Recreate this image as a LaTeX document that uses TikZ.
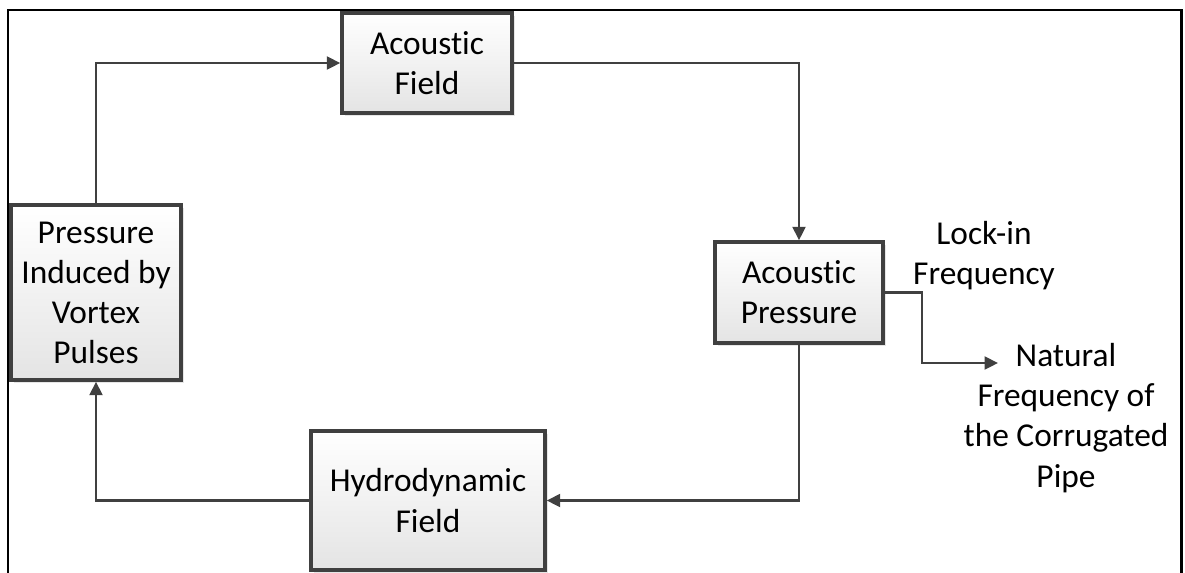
\documentclass[tikz,border=0pt]{standalone}
\usepackage{fontspec}
\setmainfont{Carlito}[Ligatures={NoCommon}]
\usetikzlibrary{arrows.meta, positioning, shadows}
\definecolor{boxedge}{HTML}{404040}
\definecolor{boxfill}{HTML}{E4E4E4}
\definecolor{linegray}{HTML}{404040}

\begin{document}
\begin{tikzpicture}[
  x=0.02cm, y=-0.02cm,
  block/.style={rectangle, draw=boxedge, line width=2pt, top color=white, bottom color=boxfill,
    drop shadow={shadow xshift=1.5pt, shadow yshift=-1.5pt, opacity=0.2},
    align=center, inner sep=2pt, font=\fontsize{19}{22.8}\selectfont},
  label text/.style={align=center, font=\fontsize{19}{22.8}\selectfont},
  arrow/.style={-{Triangle[length=0.27cm, width=0.26cm]}, line width=1.25pt, color=linegray}
]
  \useasboundingbox (0,0) rectangle (1185,572);

  % Frame
  \draw[line width=1.7pt, black] (8,575) -- (8,10) -- (1181,10) -- (1181,575);

  % Blocks
  \node[block, minimum width=3.4cm, minimum height=2.0cm] (field) at (427,63) {Acoustic\\Field};
  \node[block, minimum width=3.36cm, minimum height=2.02cm] (apress) at (799,292.5) {Acoustic\\Pressure};
  \node[block, minimum width=4.68cm, minimum height=2.78cm] (hydro) at (428,500.5) {Hydrodynamic\\Field};
  \node[block, minimum width=3.4cm, minimum height=3.5cm] (press) at (96,292.5) {Pressure\\Induced by\\Vortex\\Pulses};

  % Frequency labels
  \node[label text] (lockin) at (984,256) {Lock-in\\Frequency};
  \node[label text] (natfreq) at (1066,418) {Natural\\Frequency of\\the Corrugated\\Pipe};
  \coordinate (bend) at (922,292.5);
  \coordinate (tip) at (998,363);

  % Arrows
  \draw[arrow] (press.north) |- (field.west);
  \draw[arrow] (field.east) -| (apress.north);
  \draw[arrow] (apress.south) |- (hydro.east);
  \draw[arrow] (hydro.west) -| (press.south);
  \draw[arrow] (apress.east) -- (bend) |- (tip);
\end{tikzpicture}
\end{document}
